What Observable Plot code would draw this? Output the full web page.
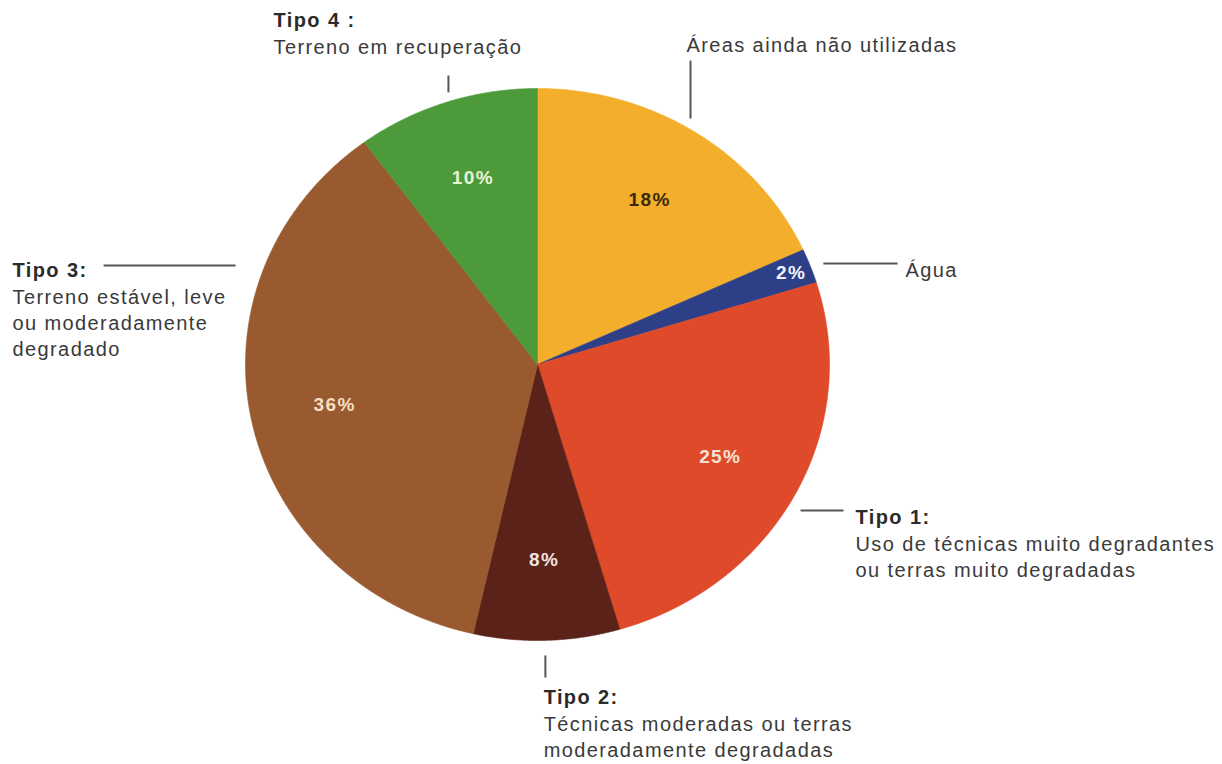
<!DOCTYPE html>
<html>
<head>
<meta charset="utf-8">
<script src="https://cdn.jsdelivr.net/npm/d3@7"></script>
<script src="https://cdn.jsdelivr.net/npm/@observablehq/plot@0.6"></script>
<style>
  html, body { margin: 0; padding: 0; background: #fff; }
  #chart svg { display: block; }
  #chart svg text { letter-spacing: 1.4px; }
</style>
</head>
<body>
<div id="chart"></div>
<script>
// ---- data (clockwise from 12 o'clock) ----
const categories = ["Áreas ainda não utilizadas", "Água", "Tipo 1", "Tipo 2", "Tipo 3", "Tipo 4"];
const shares = [18, 2, 25, 8, 36, 10];
const shareLabels = ["18%", "2%", "25%", "8%", "36%", "10%"];
const titles = ["", "", "Tipo 1:", "Tipo 2:", "Tipo 3:", "Tipo 4 :"];
const descriptions = [
  "Áreas ainda não utilizadas",
  "Água",
  "Uso de técnicas muito degradantes\nou terras muito degradadas",
  "Técnicas moderadas ou terras\nmoderadamente degradadas",
  "Terreno estável, leve\nou moderadamente\ndegradado",
  "Terreno em recuperação"
];

// ---- styles ----
const sliceColors = ["#F3AF2B", "#2C3F87", "#DF4A2A", "#5A2219", "#985A2E", "#4D9A3B"];
const pctColors = ["#3b2a0e", "#f4f4ff", "#f7e3d6", "#f0e2e2", "#f6dfc4", "#e8f3d6"];

// ---- annotation layout (in pie units: radius = 1) ----
const leaders = [
  {x1: 0.524, y1: 1.101, x2: 0.524, y2: 0.891},
  {x1: 0.979, y1: 0.366, x2: 1.233, y2: 0.366},
  {x1: 0.901, y1: -0.529, x2: 1.048, y2: -0.529},
  {x1: 0.027, y1: -1.054, x2: 0.027, y2: -1.134},
  {x1: -1.486, y1: 0.359, x2: -1.034, y2: 0.359},
  {x1: -0.305, y1: 1.047, x2: -0.305, y2: 0.986}
];
const anchors = [
  {x: 0.510, y: 1.156},
  {x: 1.260, y: 0.341},
  {x: 1.089, y: -0.554},
  {x: 0.021, y: -1.207},
  {x: -1.798, y: 0.341},
  {x: -0.904, y: 1.246}
];

const rows = categories.map((name, i) => ({name, value: shares[i], label: shareLabels[i], i}));
const arcs = d3.pie().sort(null).value(d => d.value).startAngle(0).endAngle(2 * Math.PI)(rows);

// wedge outlines from the pie layout
const wedgePts = [];
for (const a of arcs) {
  wedgePts.push({name: a.data.name, x: 0, y: 0});
  const n = Math.max(2, Math.ceil((a.endAngle - a.startAngle) / 0.005));
  for (let k = 0; k <= n; k++) {
    const t = a.startAngle + (a.endAngle - a.startAngle) * k / n;
    wedgePts.push({name: a.data.name, x: Math.sin(t), y: Math.cos(t)});
  }
  wedgePts.push({name: a.data.name, x: 0, y: 0});
}

// percentage labels at slice mid-angles
const pctPts = arcs.map(a => {
  const m = (a.startAngle + a.endAngle) / 2;
  const r = a.data.value < 5 ? 0.93 : 0.71;
  return {x: r * Math.sin(m), y: r * Math.cos(m), label: a.data.label, color: pctColors[a.data.i]};
});

const ann = categories.map((c, i) => ({
  ...anchors[i], title: titles[i], desc: descriptions[i], hasTitle: titles[i] !== ""
}));

const font = "'Liberation Sans', Arial, sans-serif";

const chart = Plot.plot({
  width: 1222,
  height: 764,
  margin: 0,
  x: {type: "linear", domain: [-1, 1], range: [245, 829], axis: null},
  y: {type: "linear", domain: [-1, 1], range: [640, 88], axis: null},
  color: {domain: categories, range: sliceColors},
  style: {fontFamily: font, background: "#fff"},
  marks: [
    Plot.line(wedgePts, {x: "x", y: "y", z: "name", fill: "name", stroke: "name", strokeWidth: 0.6, curve: "linear"}),
    Plot.text(pctPts, {x: "x", y: "y", text: "label", fill: "color", fontSize: 19, fontWeight: "bold"}),
    Plot.link(leaders, {x1: "x1", y1: "y1", x2: "x2", y2: "y2", stroke: "#555", strokeWidth: 2}),
    Plot.text(ann.filter(d => d.hasTitle), {x: "x", y: "y", text: "title", textAnchor: "start", fontSize: 20, fontWeight: "bold", fill: "#2b2b2b"}),
    Plot.text(ann.filter(d => d.hasTitle), {x: "x", y: "y", text: "desc", textAnchor: "start", lineAnchor: "top", dy: 15, lineHeight: 1.3, fontSize: 20, fill: "#3a3a3a"}),
    Plot.text(ann.filter(d => !d.hasTitle), {x: "x", y: "y", text: "desc", textAnchor: "start", fontSize: 20, fill: "#3a3a3a"})
  ]
});
document.getElementById("chart").appendChild(chart);
</script>
</body>
</html>
